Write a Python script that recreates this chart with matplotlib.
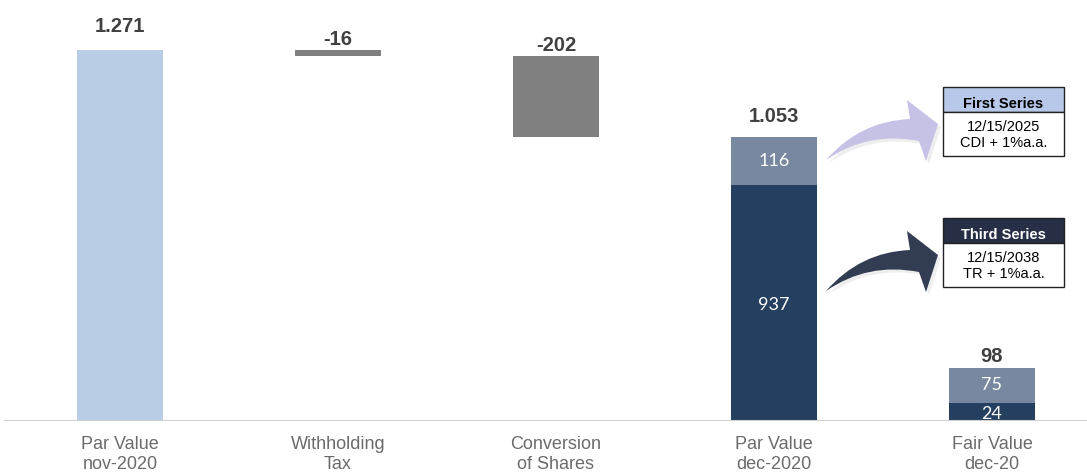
import matplotlib.pyplot as plt
from matplotlib.patches import Rectangle, PathPatch
from matplotlib.path import Path

categories = ['Par Value\nnov-2020', 'Withholding\nTax', 'Conversion\nof Shares', 'Par Value\ndec-2020', 'Fair Value\ndec-20']
totals = ['1.271', '-16', '-202', '1.053', '98']

# drawn heights (the source chart is not to scale)
start_h = 1271
withholding_h = [1250, 1271]   # bottom, top
conversion_h = [973, 1250]
dec_low_h, dec_high_h = 808, 165
fair_low_h, fair_high_h = 62, 120
dec_labels = ['937', '116']
fair_labels = ['24', '75']

light_blue = '#B9CDE5'
grey = '#808080'
navy = '#243F60'
slate = '#7788A0'

fig = plt.figure(figsize=(10.87, 4.75), dpi=100)
ax = fig.add_axes([0, 54 / 475, 1, 1 - 54 / 475])
x = [0, 1, 2, 3, 4]
w = 86 / 218
u = 1271 / 371  # data units per pixel

ax.bar(x[0], start_h, width=w, color=light_blue)
ax.bar(x[1], withholding_h[1] - withholding_h[0], bottom=withholding_h[0], width=w, color=grey)
ax.bar(x[2], conversion_h[1] - conversion_h[0], bottom=conversion_h[0], width=w, color=grey)
ax.bar(x[3], dec_low_h, width=w, color=navy)
ax.bar(x[3], dec_high_h, bottom=dec_low_h, width=w, color=slate)
ax.bar(x[4], fair_low_h, width=w, color=navy)
ax.bar(x[4], fair_high_h, bottom=fair_low_h, width=w, color=slate)

ax.set_xlim(-120 / 218, (1087 - 120) / 218)
ax.set_ylim(0, 421 * u)
ax.axis('off')
ax.axhline(0, xmin=5 / 1087, xmax=1, color='#D0D0D0', linewidth=1.5)

# total labels on top
tops = [start_h, withholding_h[1], conversion_h[1], dec_low_h + dec_high_h, fair_low_h + fair_high_h]
gaps = [18, 5, 5, 15, 6]
for xi, t, lab, g in zip(x, tops, totals, gaps):
    ax.text(xi, t + g * u, lab, ha='center', va='baseline', fontsize=14.5, fontweight='bold',
            color='#404040', family='Liberation Sans')

# inner labels
inner = dict(ha='center', va='center', fontsize=13, color='white', family='Lato')
ax.text(x[3], dec_low_h / 2 - 8, dec_labels[0], **inner)
ax.text(x[3], dec_low_h + dec_high_h / 2, dec_labels[1], **inner)
ax.text(x[4], fair_low_h / 2 - 8, fair_labels[0], **inner)
ax.text(x[4], fair_low_h + fair_high_h / 2, fair_labels[1], **inner)

for xi, c in zip(x, categories):
    ax.text(xi, -15 * u, c, ha='center', va='top', fontsize=13, color='#6B6B6B',
            family='Liberation Sans', linespacing=1.2)


def fx(px):
    return px / 1087


def fy(py):
    return 1 - py / 475


# callout boxes
def callout(top, head_color, head_text_color, title, lines):
    x0, x1 = 943, 1064
    fig.patches.append(Rectangle((fx(x0), fy(top + 25)), fx(x1) - fx(x0), fy(top) - fy(top + 25),
                                 transform=fig.transFigure, facecolor=head_color, edgecolor='#222222', lw=1))
    fig.patches.append(Rectangle((fx(x0), fy(top + 69)), fx(x1) - fx(x0), fy(top + 25) - fy(top + 69),
                                 transform=fig.transFigure, facecolor='white', edgecolor='#222222', lw=1))
    fig.text(fx((x0 + x1) / 2), fy(top + 17), title, ha='center', va='center', fontsize=10.5,
             fontweight='bold', color=head_text_color, family='Liberation Sans')
    fig.text(fx((x0 + x1) / 2), fy(top + 48), lines, ha='center', va='center', fontsize=10.5,
             color='black', family='Liberation Sans', linespacing=1.25)


callout(87, '#B7C8E8', 'black', 'First Series', '12/15/2025\nCDI + 1%a.a.')
callout(218, '#262F45', 'white', 'Third Series', '12/15/2038\nTR + 1%a.a.')


# curved tapered arrows (shape in pixels, dy shifts it down)
def curved_arrow(dy, color):
    pts = [(826, 160), (860, 121), (910, 119), (907, 100), (938, 124), (926, 161),
           (919, 141), (868, 131), (826, 160)]
    codes = [Path.MOVETO, Path.CURVE3, Path.CURVE3, Path.LINETO, Path.LINETO, Path.LINETO,
             Path.LINETO, Path.CURVE3, Path.CURVE3]
    for off, col, a in [(3, '#C8C8C8', 0.3), (0, color, 1)]:
        verts = [(fx(px + off), fy(py + dy + off)) for px, py in pts]
        fig.patches.append(PathPatch(Path(verts, codes), transform=fig.transFigure,
                                     facecolor=col, edgecolor='none', alpha=a))


curved_arrow(0, '#C5C2E6')
curved_arrow(131, '#323C52')

fig.savefig('out.png', dpi=100)
